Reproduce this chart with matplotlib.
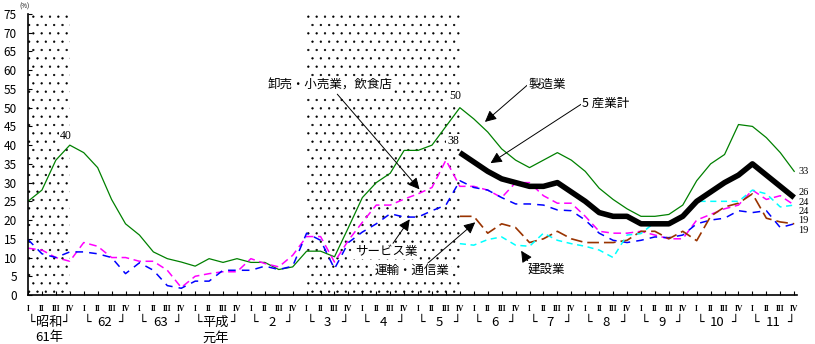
import numpy as np
import matplotlib
matplotlib.use("Agg")
import matplotlib.pyplot as plt

plt.rcParams['font.family'] = ['Noto Sans CJK JP', 'DejaVu Sans']
plt.rcParams['hatch.linewidth'] = 0.4

# quarterly values, 昭和61年 I  ->  平成11年 IV
years = ["昭和", "62", "63", "平成", "2", "3", "4", "5", "6", "7", "8", "9", "10", "11"]
year_sub = {0: "61年", 3: "元年"}
quarters = ["I", "II", "III", "IV"]

manufacturing = [25, 28, 36, 40, 38, 34, 25.5, 19, 16, 11.5,
                 9.7, 8.8, 7.7, 9.7, 8.7, 9.7, 8.7, 8.7, 6.8, 7.5,
                 11.7, 11.7, 10.2, 18, 26, 30, 32.5, 38.6, 38.6, 40,
                 45, 50, 47, 43.5, 39, 36, 34, 36, 38, 36,
                 33, 28.5, 25.5, 23, 21, 21, 21.5, 24, 30.5, 35,
                 37.5, 45.5, 45, 42, 38, 33]
wholesale = [12.5, 12, 10, 9, 14, 13, 10, 10, 9, 9,
             6.6, 2, 5, 5.7, 6.2, 6.2, 9.7, 8.4, 7.5, 10.6,
             15.6, 15.6, 8.8, 14.6, 19.4, 24, 24, 25.6, 27, 28.7,
             36, 29, 29, 28, 26, 30, 30, 26.5, 24.5, 24.5,
             21, 17, 16.5, 16.5, 17, 16, 15, 15, 20, 21.5,
             23, 24, 28, 25.5, 26.5, 24]
services = [14.8, 11, 10, 11.5, 11.5, 11, 10, 5.7, 8.6, 6.6,
            2.5, 1.8, 3.7, 3.7, 6.6, 6.6, 6.6, 7.7, 6.8, 7.7,
            16.5, 14.6, 7, 14, 16.8, 19, 21.7, 20.8, 20.8, 22.5,
            24, 30.5, 28.7, 28, 26, 24.3, 24.3, 24, 22.7, 22.5,
            20, 16.5, 14.6, 14, 14.6, 15.5, 15.3, 16, 19, 20,
            20.5, 22.5, 22, 22.5, 18, 19]
# these three start at 平成5年 IV
start_late = 31
total5 = [38, 35.5, 33, 31, 30, 29, 29, 30, 27.5, 25,
          22, 21, 21, 19, 19, 19, 21, 25, 27.5, 30,
          32, 35, 32, 29, 26]
transport = [21, 21, 16.5, 19, 18, 14, 15, 17, 15, 14,
             14, 14, 14.6, 17, 17, 15, 17, 14.5, 21, 23.5,
             24.5, 27, 20.5, 19.5, 19]
construction = [13.7, 13.3, 14.8, 15.5, 13.3, 13, 16.5, 14.6, 13.7, 13,
                12, 10, 16, 16.4, 19.4, 19, 21.5, 25, 25, 25,
                25, 28, 27, 23.5, 24]

n = len(manufacturing)
x = np.arange(n)
x_late = np.arange(start_late, n)

fig = plt.figure(figsize=(8.15, 3.44), dpi=100)
ax = fig.add_axes([28 / 815, 49 / 344, 769 / 815, 281 / 344])
ax.set_xlim(0, 55.2)
ax.set_ylim(0, 75)

# dotted background for the shaded periods
for a, b in [(0, 3), (20, 31)]:
    ax.axvspan(a, b, facecolor="none", edgecolor="black", hatch="..",
               linewidth=0, zorder=0)

ax.plot(x, manufacturing, color="#008000", lw=0.9)
ax.plot(x, wholesale, color="#FF00FF", lw=1.1, ls=(0, (5, 3)))
ax.plot(x, services, color="#0000FF", lw=1.1, ls=(0, (5, 4)))
ax.plot(x_late, transport, color="#993300", lw=1.2, ls=(0, (7, 3)))
ax.plot(x_late, construction, color="#00FFFF", lw=1.1, ls=(0, (4, 3)))
ax.plot(x_late, total5, color="black", lw=4.0, solid_capstyle="butt")

# value labels
num = dict(family=["Liberation Serif", "DejaVu Serif"], fontsize=8.5)
box = dict(facecolor="white", edgecolor="none", pad=0.5)
ax.annotate(f"{manufacturing[3]:.0f}", (3, manufacturing[3]), xytext=(-3, 2),
            textcoords="offset points", ha="center", va="bottom", bbox=box, **num)
ax.annotate(f"{manufacturing[31]:.0f}", (31, manufacturing[31]), xytext=(-3, 4),
            textcoords="offset points", ha="center", va="bottom", bbox=box, **num)
ax.annotate(f"{total5[0]:.0f}", (start_late, total5[0]), xytext=(-5, 4),
            textcoords="offset points", ha="center", va="bottom", bbox=box, **num)

# end-of-period values, nudged apart where they crowd
end_labels = [(manufacturing[-1], 0), (total5[-1], 3.6), (wholesale[-1], 2.2),
              (construction[-1], -4.7), (transport[-1], 2.1), (services[-1], -4.8)]
for v, dy in end_labels:
    ax.annotate(f"{v:.0f}", (n - 1, v), xytext=(3, dy), textcoords="offset points",
                ha="left", va="center", family=["Liberation Serif", "DejaVu Serif"],
                fontsize=7.5)

# series names with arrows
arrow = dict(arrowstyle="-|>", color="black", lw=0.7, mutation_scale=17,
             shrinkA=0, shrinkB=0)
notes = [
    ("製造業", (35.9, 56.2), (35.9, 56.2), (32.8, 46.2), "left"),
    ("5 産業計", (39.8, 51.2), (39.7, 50.9), (33.2, 35.2), "left"),
    ("卸売・小売業，飲食店", (21.7, 56.0), (22.2, 53.6), (28.1, 28.2), "center"),
    ("サービス業", (25.7, 11.6), (26.2, 13.8), (27.4, 20.2), "center"),
    ("運輸・通信業", (27.6, 6.5), (28.7, 8.5), (32.1, 19.4), "center"),
    ("建設業", (37.2, 7.0), (36.0, 8.3), (35.4, 11.8), "center"),
]
for label, tpos, tail, tip, ha in notes:
    ax.annotate("", xy=tip, xytext=tail, arrowprops=arrow)
    ax.text(tpos[0], tpos[1], label, fontsize=9, ha=ha, va="center",
            bbox=dict(facecolor="white", edgecolor="none", pad=1))

# axes styling
for side in ["top", "right"]:
    ax.spines[side].set_visible(False)
ax.spines["left"].set_linewidth(1.2)
ax.spines["bottom"].set_linewidth(1.2)
ax.set_yticks(np.arange(0, 76, 5))
ax.tick_params(axis="y", direction="in", length=3, labelsize=8.5, pad=8)
ax.set_xticks(x)
ax.set_xticklabels(quarters * len(years), family=["Liberation Serif", "DejaVu Serif"],
                   fontsize=5.5, fontweight="bold")
ax.tick_params(axis="x", direction="in", length=3, pad=7)

tr = ax.get_xaxis_transform()
for k, yr in enumerate(years):
    ax.text(4 * k + 0.25, -0.098, "└", transform=tr, ha="center", va="center",
            fontsize=9, family="DejaVu Sans")
    ax.text(4 * k + 2.75, -0.098, "┘", transform=tr, ha="center", va="center",
            fontsize=9, family="DejaVu Sans")
    ax.text(4 * k + 1.5, -0.098, yr, transform=tr, ha="center", va="center",
            fontsize=9.5)
    if k in year_sub:
        ax.text(4 * k + 1.5, -0.153, year_sub[k], transform=tr, ha="center",
                va="center", fontsize=9.5)

fig.text(25 / 815, 1 - 7 / 344, "(%)", fontsize=4.5, ha="center", va="center")

fig.savefig("out.png", dpi=100)
